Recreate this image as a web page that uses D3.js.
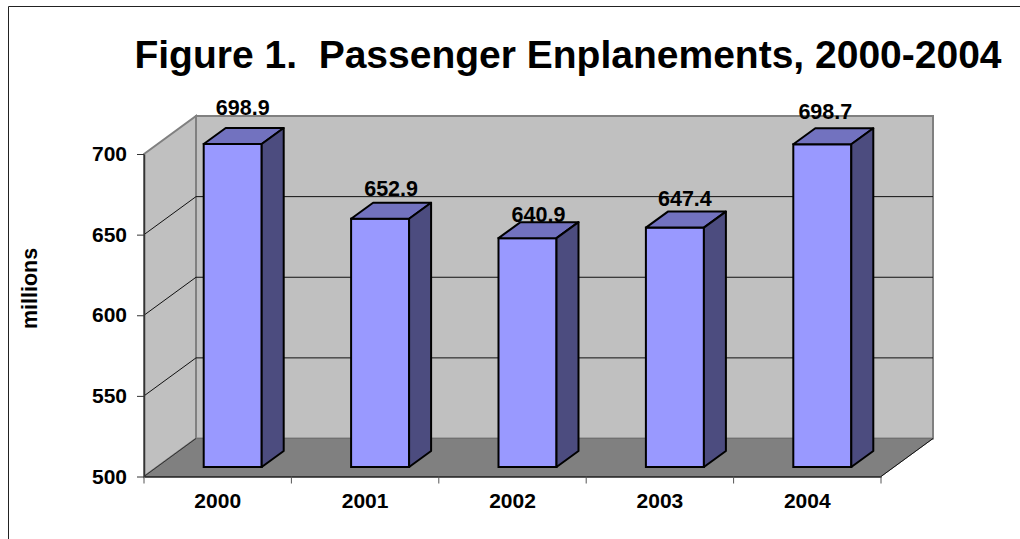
<!DOCTYPE html>
<html>
<head>
<meta charset="utf-8">
<script src="https://cdn.jsdelivr.net/npm/d3@7"></script>
<style>
html, body { margin: 0; padding: 0; background: #fff; }
svg { display: block; }
text { font-family: "Liberation Sans", Arial, sans-serif; font-weight: bold; fill: #000; }
</style>
</head>
<body>
<script>
var years = ['2000', '2001', '2002', '2003', '2004'];
var enplanements = [698.9, 652.9, 640.9, 647.4, 698.7];
var valueTicks = [500, 550, 600, 650, 700];

var svg = d3.select('body').append('svg').attr('width', 1020).attr('height', 539);

// front plane scales
var x = d3.scaleBand().domain(years).range([144, 881]);
var y = d3.scaleLinear().domain([500, 700]).range([476.5, 154]);
// bars sit a bit inside the depth, so they get their own scale
var yBar = d3.scaleLinear().domain([500, 700]).range([467, 142.2]);

var depthX = 52, depthY = -38;   // floor depth
var barDepthX = 22, barDepthY = -16;
var barShiftX = 15;
var barW = 58;

// the labels were dragged by hand in the original, so each has its own offset
var labelDx = [10, 11, 11, 10, 3];
var labelDy = [-29, -23, -16.5, -22, -25];

function poly(pts) { return pts.map(function(p){ return p.join(','); }).join(' '); }

// outer frame, only top and left show
svg.append('path').attr('d', 'M8.5,539V6.5H1020').attr('fill', 'none').attr('stroke', '#222').attr('stroke-width', 1);

var x0 = x.range()[0], x1 = x.range()[1];
var yLo = y(500), yHi = y(700);

// back wall
svg.append('rect')
    .attr('x', x0 + depthX).attr('y', yHi + depthY)
    .attr('width', x1 - x0).attr('height', yLo - yHi)
    .attr('fill', '#c0c0c0').attr('stroke', '#808080').attr('stroke-width', 2);
// side wall
svg.append('polygon')
    .attr('points', poly([[x0, yHi], [x0 + depthX, yHi + depthY], [x0 + depthX, yLo + depthY], [x0, yLo]]))
    .attr('fill', '#c0c0c0').attr('stroke', '#808080').attr('stroke-width', 2);
// floor
svg.append('polygon')
    .attr('points', poly([[x0, yLo], [x0 + depthX, yLo + depthY], [x1 + depthX, yLo + depthY], [x1, yLo]]))
    .attr('fill', '#808080').attr('stroke', '#707070').attr('stroke-width', 1);

// gridlines
var inner = valueTicks.slice(1, 4);
svg.selectAll('line.back').data(inner).enter().append('line')
    .attr('class', 'back')
    .attr('x1', x0 + depthX).attr('x2', x1 + depthX)
    .attr('y1', function(d){ return y(d) + depthY; })
    .attr('y2', function(d){ return y(d) + depthY; })
    .attr('stroke', '#111').attr('stroke-width', 1);
svg.selectAll('line.slant').data(inner).enter().append('line')
    .attr('class', 'slant')
    .attr('x1', x0).attr('x2', x0 + depthX)
    .attr('y1', function(d){ return y(d); })
    .attr('y2', function(d){ return y(d) + depthY; })
    .attr('stroke', '#111').attr('stroke-width', 1);
// floor edges
svg.append('line').attr('x1', x0).attr('x2', x0 + depthX).attr('y1', yLo).attr('y2', yLo + depthY).attr('stroke', '#333');
svg.append('line').attr('x1', x1).attr('x2', x1 + depthX).attr('y1', yLo).attr('y2', yLo + depthY).attr('stroke', '#111');

// axes
var yAxis = d3.axisLeft(y).tickValues(valueTicks).tickSize(7).tickSizeOuter(0);
var yG = svg.append('g').attr('transform', 'translate(' + x0 + ',0)').call(yAxis);
yG.select('.domain').attr('stroke', '#333').attr('stroke-width', 1.5);
yG.selectAll('line').attr('stroke', '#333');
yG.selectAll('text').attr('font-size', 21).attr('x', -17).attr('font-family', null);

var xAxis = d3.axisBottom(x).tickSize(0).tickPadding(17);
var xG = svg.append('g').attr('transform', 'translate(0,' + yLo + ')').call(xAxis);
xG.select('.domain').attr('stroke', '#222').attr('stroke-width', 1.5);
xG.selectAll('text').attr('font-size', 21).attr('font-family', null);
xG.selectAll('line.sep').data(d3.range(years.length + 1)).enter().append('line')
    .attr('class', 'sep')
    .attr('x1', function(i){ return x0 + i * x.step(); })
    .attr('x2', function(i){ return x0 + i * x.step(); })
    .attr('y1', 0).attr('y2', 7).attr('stroke', '#555');

// bars
var bars = svg.selectAll('g.bar').data(enplanements).enter().append('g').attr('class', 'bar');
function barLeft(i) { return x(years[i]) + (x.bandwidth() - barW) / 2 + barShiftX; }

bars.append('rect')
    .attr('x', function(d, i){ return barLeft(i); })
    .attr('y', function(d){ return yBar(d); })
    .attr('width', barW)
    .attr('height', function(d){ return yBar(500) - yBar(d); })
    .attr('fill', '#9999ff').attr('stroke', '#000').attr('stroke-width', 2);
bars.append('polygon')
    .attr('points', function(d, i){
        var l = barLeft(i), t = yBar(d);
        return poly([[l, t], [l + barDepthX, t + barDepthY], [l + barW + barDepthX, t + barDepthY], [l + barW, t]]);
    })
    .attr('fill', '#7272bf').attr('stroke', '#000').attr('stroke-width', 2).attr('stroke-linejoin', 'round');
bars.append('polygon')
    .attr('points', function(d, i){
        var r = barLeft(i) + barW, t = yBar(d), b = yBar(500);
        return poly([[r, t], [r + barDepthX, t + barDepthY], [r + barDepthX, b + barDepthY], [r, b]]);
    })
    .attr('fill', '#4c4c7f').attr('stroke', '#000').attr('stroke-width', 2).attr('stroke-linejoin', 'round');

// value labels
bars.append('text')
    .attr('x', function(d, i){ return barLeft(i) + barW / 2 + labelDx[i]; })
    .attr('y', function(d, i){ return yBar(d) + labelDy[i]; })
    .attr('text-anchor', 'middle')
    .attr('font-size', 21.5)
    .text(function(d){ return d.toFixed(1); });

svg.append('text')
    .attr('x', 568).attr('y', 67.5)
    .attr('text-anchor', 'middle')
    .attr('font-size', 39)
    .style('white-space', 'pre')
    .text('Figure 1.  Passenger Enplanements, 2000-2004');

svg.append('text')
    .attr('transform', 'translate(37,288.5) rotate(-90)')
    .attr('text-anchor', 'middle')
    .attr('font-size', 21.5)
    .text('millions');
</script>
</body>
</html>
